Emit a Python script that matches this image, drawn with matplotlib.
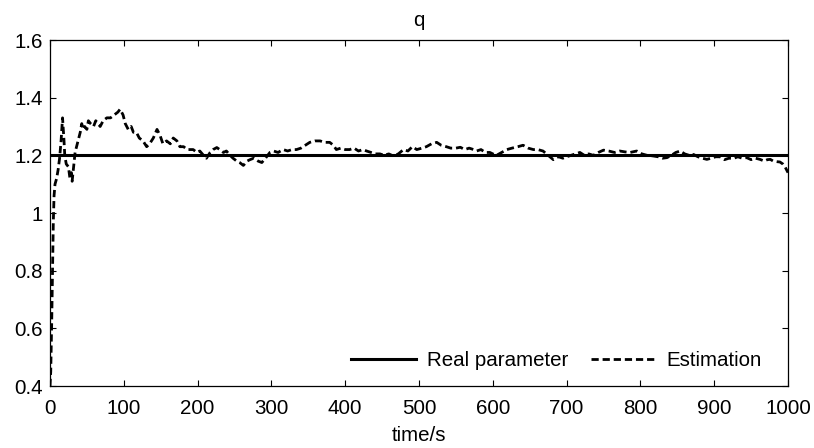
import matplotlib
matplotlib.use("Agg")
import matplotlib.pyplot as plt
from matplotlib.ticker import FuncFormatter

plt.rcParams['font.family'] = ['Liberation Sans', 'DejaVu Sans']

# ---- data ----
real_t = [0, 1000]
real_q = [1.2, 1.2]

est_t = [0, 1, 2.3, 3.5, 4.5, 5.5, 6.8, 9, 11, 13, 15, 17, 19, 20, 22, 25, 27, 29, 30, 32,
         34, 36, 38, 41, 43, 45, 47, 50, 52, 55, 59, 62, 65, 68, 72, 77, 82, 87, 92, 95,
         99, 102, 106, 110, 113, 117, 121, 126, 131, 135, 140, 145, 149, 153, 158, 163, 167, 172, 176, 181,
         186, 190, 194, 199, 203, 208, 212, 217, 221, 226, 230, 235, 239, 244, 248, 253, 257, 262, 267, 271,
         276, 282, 287, 292, 298, 303, 309, 316, 322, 328, 334, 340, 346, 352, 359, 366, 372, 379, 384, 388,
         394, 400, 406, 412, 418, 424, 429, 435, 441, 447, 453, 459, 465, 472, 479, 485, 491, 497, 504, 510,
         517, 524, 530, 537, 543, 550, 556, 562, 568, 574, 578, 584, 590, 596, 600, 605, 612, 619, 626, 634,
         641, 648, 655, 661, 668, 675, 682, 689, 695, 700, 706, 712, 718, 724, 730, 736, 743, 750, 757, 765,
         772, 779, 786, 795, 802, 809, 817, 824, 830, 836, 842, 848, 854, 860, 866, 872, 878, 884, 890, 896,
         902, 908, 914, 920, 926, 932, 938, 944, 950, 956, 962, 968, 972, 976, 980, 985, 989, 993, 996, 998,
         1000]
est_q = [0.40, 0.45, 0.62, 0.80, 0.97, 1.06, 1.10, 1.12, 1.15, 1.19, 1.25, 1.33, 1.25, 1.20, 1.17, 1.16, 1.12, 1.14, 1.11, 1.16,
         1.21, 1.23, 1.25, 1.28, 1.31, 1.29, 1.30, 1.29, 1.32, 1.31, 1.30, 1.32, 1.31, 1.30, 1.32, 1.33, 1.33, 1.34, 1.35, 1.36,
         1.34, 1.31, 1.29, 1.30, 1.28, 1.28, 1.26, 1.25, 1.23, 1.24, 1.26, 1.29, 1.27, 1.24, 1.25, 1.24, 1.26, 1.25, 1.23, 1.23,
         1.22, 1.22, 1.22, 1.21, 1.215, 1.20, 1.19, 1.21, 1.22, 1.227, 1.22, 1.21, 1.215, 1.20, 1.19, 1.18, 1.175, 1.165, 1.18, 1.185,
         1.19, 1.18, 1.175, 1.19, 1.21, 1.215, 1.21, 1.22, 1.215, 1.22, 1.22, 1.225, 1.235, 1.245, 1.25, 1.25, 1.245, 1.245, 1.235, 1.22,
         1.225, 1.22, 1.22, 1.225, 1.215, 1.22, 1.215, 1.21, 1.205, 1.205, 1.20, 1.205, 1.198, 1.205, 1.22, 1.215, 1.23, 1.22, 1.225, 1.23,
         1.24, 1.245, 1.235, 1.23, 1.225, 1.225, 1.228, 1.22, 1.225, 1.22, 1.215, 1.22, 1.21, 1.21, 1.205, 1.20, 1.21, 1.22, 1.225, 1.23,
         1.235, 1.225, 1.22, 1.22, 1.215, 1.20, 1.185, 1.195, 1.19, 1.195, 1.20, 1.205, 1.21, 1.20, 1.205, 1.20, 1.21, 1.218, 1.215, 1.21,
         1.215, 1.212, 1.21, 1.215, 1.205, 1.20, 1.198, 1.195, 1.19, 1.192, 1.20, 1.21, 1.215, 1.205, 1.20, 1.203, 1.195, 1.19, 1.186, 1.19,
         1.195, 1.195, 1.185, 1.19, 1.189, 1.195, 1.19, 1.192, 1.185, 1.19, 1.186, 1.18, 1.185, 1.186, 1.18, 1.178, 1.177, 1.17, 1.16, 1.15,
         1.14]

x_ticks = [0, 100, 200, 300, 400, 500, 600, 700, 800, 900, 1000]
y_ticks = [0.4, 0.6, 0.8, 1.0, 1.2, 1.4, 1.6]

labels = ["Real parameter", "Estimation"]
title = "q"
xlabel = "time/s"

# ---- figure ----
FS = 14.8
fig = plt.figure(figsize=(8.14, 4.48), dpi=100)
ax = fig.add_axes([50/814, 1-386/448, (788-50)/814, (386-40)/448])

ax.plot(real_t, real_q, color='black', lw=2.2, label=labels[0])
ax.plot(est_t, est_q, color='black', lw=2.0, linestyle=(0, (2.6, 1.4)), label=labels[1])

ax.set_xlim(0, 1000)
ax.set_ylim(0.4, 1.6)
ax.set_xticks(x_ticks)
ax.set_yticks(y_ticks)
ax.yaxis.set_major_formatter(FuncFormatter(lambda v, p: f"{v:g}"))
ax.tick_params(direction='in', top=True, right=True, length=4, width=0.8,
               labelsize=FS, colors='black')
ax.tick_params(axis='x', pad=9)
ax.tick_params(axis='y', pad=5)
for s in ax.spines.values():
    s.set_linewidth(0.9)
    s.set_color('black')

ax.set_title(title, fontsize=FS, pad=10)
ax.set_xlabel(xlabel, fontsize=FS, labelpad=6)

leg = ax.legend(loc='lower right', ncol=2, frameon=False, fontsize=FS,
                handlelength=3.2, columnspacing=1.1, handletextpad=0.5,
                borderaxespad=0.0, borderpad=0.0,
                bbox_to_anchor=((762-50)/738, 0.045))

fig.savefig("out.png", dpi=100)
